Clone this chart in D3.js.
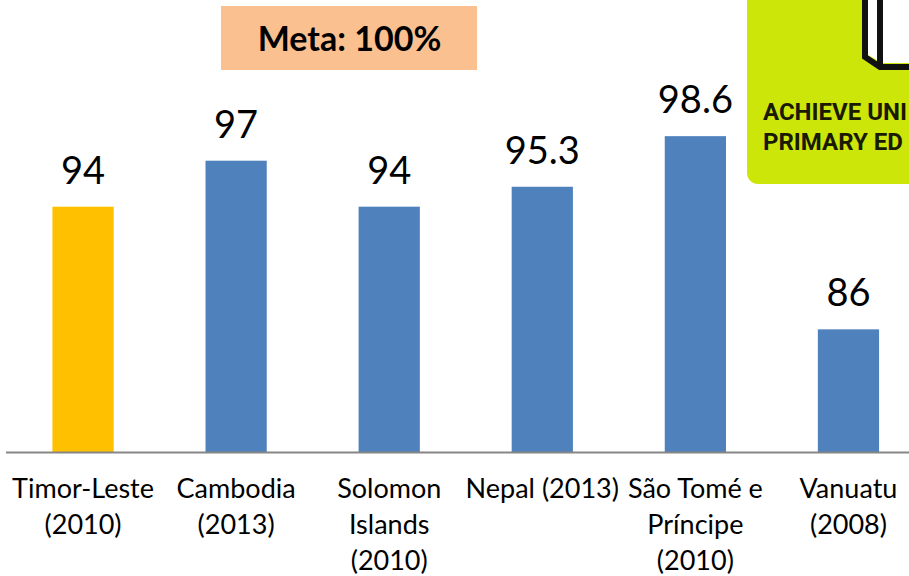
<!DOCTYPE html>
<html>
<head>
<meta charset="utf-8">
<script src="https://cdnjs.cloudflare.com/ajax/libs/d3/7.8.5/d3.min.js"></script>
<style>
  html, body { margin: 0; padding: 0; background: #fff; overflow: hidden; }
  text { font-family: Lato, "Open Sans", sans-serif; fill: #000; }
</style>
</head>
<body>
<svg id="chart"></svg>
<script>
"use strict";

// values, the first bar is the highlighted one
var countries = ["Timor-Leste", "Cambodia", "Solomon Islands", "Nepal", "São Tomé e Príncipe", "Vanuatu"];
var values = [94, 97, 94, 95.3, 98.6, 86];
var valueLabels = ["94", "97", "94", "95.3", "98.6", "86"];
var tickLines = [
  ["Timor-Leste", "(2010)"],
  ["Cambodia", "(2013)"],
  ["Solomon", "Islands", "(2010)"],
  ["Nepal (2013)"],
  ["São Tomé e", "Príncipe", "(2010)"],
  ["Vanuatu", "(2008)"]
];
var targetLabel = "Meta: 100%";
// the badge is cut by the page edge, only this much of it shows
var badgeLines = ["ACHIEVE UNI", "PRIMARY ED"];

var width = 909, height = 576;
var baseline = 452;

var svg = d3.select("#chart")
    .attr("width", width)
    .attr("height", height)
    .style("display", "block");

var x = d3.scaleBand()
    .domain(countries)
    .range([6.5, 925])
    .paddingInner(0.6)
    .paddingOuter(0.3);

// the axis does not start at zero in the original
var y = d3.scaleLinear()
    .domain([78, 100])
    .range([baseline, 114.7]);

// MDG badge
var badge = svg.append("g");
badge.append("rect")
    .attr("x", 747)
    .attr("y", -30)
    .attr("width", 200)
    .attr("height", 214)
    .attr("rx", 11)
    .attr("fill", "#cde60a");
badge.append("path")
    .attr("d", "M865 -5 V57 L880 67 H920 M880 -5 V67")
    .attr("fill", "none")
    .attr("stroke", "#111")
    .attr("stroke-width", 6);
badge.append("path")
    .attr("d", "M868 -5 H877 V60 L868 55 Z M883 -5 H915 V63 H883 Z")
    .attr("fill", "#fff");
badge.selectAll("text")
    .data(badgeLines)
    .enter()
    .append("text")
    .attr("x", 763)
    .attr("y", function(d, i) { return 120 + i * 30; })
    .attr("font-size", 24)
    .attr("font-weight", 700)
    .style("font-family", "Roboto, sans-serif")
    .style("fill", "#1a1a00")
    .text(function(d) { return d; });

// target box
svg.append("rect")
    .attr("x", 221)
    .attr("y", 6)
    .attr("width", 256)
    .attr("height", 64)
    .attr("fill", "#fac090");
svg.append("text")
    .attr("x", 349.5)
    .attr("y", 51)
    .attr("text-anchor", "middle")
    .attr("font-size", 34)
    .attr("font-weight", 700)
    .text(targetLabel);

svg.selectAll(".bar")
    .data(values)
    .enter()
    .append("rect")
    .attr("class", "bar")
    .attr("x", function(d, i) { return x(countries[i]); })
    .attr("y", function(d) { return y(d); })
    .attr("width", x.bandwidth())
    .attr("height", function(d) { return baseline - y(d); })
    .attr("fill", function(d, i) { return i === 0 ? "#ffc000" : "#4f81bd"; });

svg.selectAll(".value")
    .data(values)
    .enter()
    .append("text")
    .attr("class", "value")
    .attr("x", function(d, i) { return x(countries[i]) + x.bandwidth() / 2; })
    .attr("y", function(d) { return y(d) - 23; })
    .attr("text-anchor", "middle")
    .attr("font-size", 38)
    .text(function(d, i) { return valueLabels[i]; });

// x axis with wrapped labels
var xAxis = svg.append("g")
    .attr("transform", "translate(0," + baseline + ")")
    .call(d3.axisBottom(x).tickSize(0).tickFormat(""));

xAxis.select(".domain")
    .attr("d", "M6,0.5H909")
    .attr("stroke", "#868686")
    .attr("stroke-width", 2);

xAxis.selectAll(".tick").select("text").remove();

xAxis.selectAll(".tick")
    .append("text")
    .attr("text-anchor", "middle")
    .attr("font-size", 27)
    .each(function(d, i) {
      d3.select(this).selectAll("tspan")
          .data(tickLines[i])
          .enter()
          .append("tspan")
          .attr("x", 0)
          .attr("y", function(l, j) { return 46 + j * 36; })
          .text(function(l) { return l; });
    });
</script>
</body>
</html>
